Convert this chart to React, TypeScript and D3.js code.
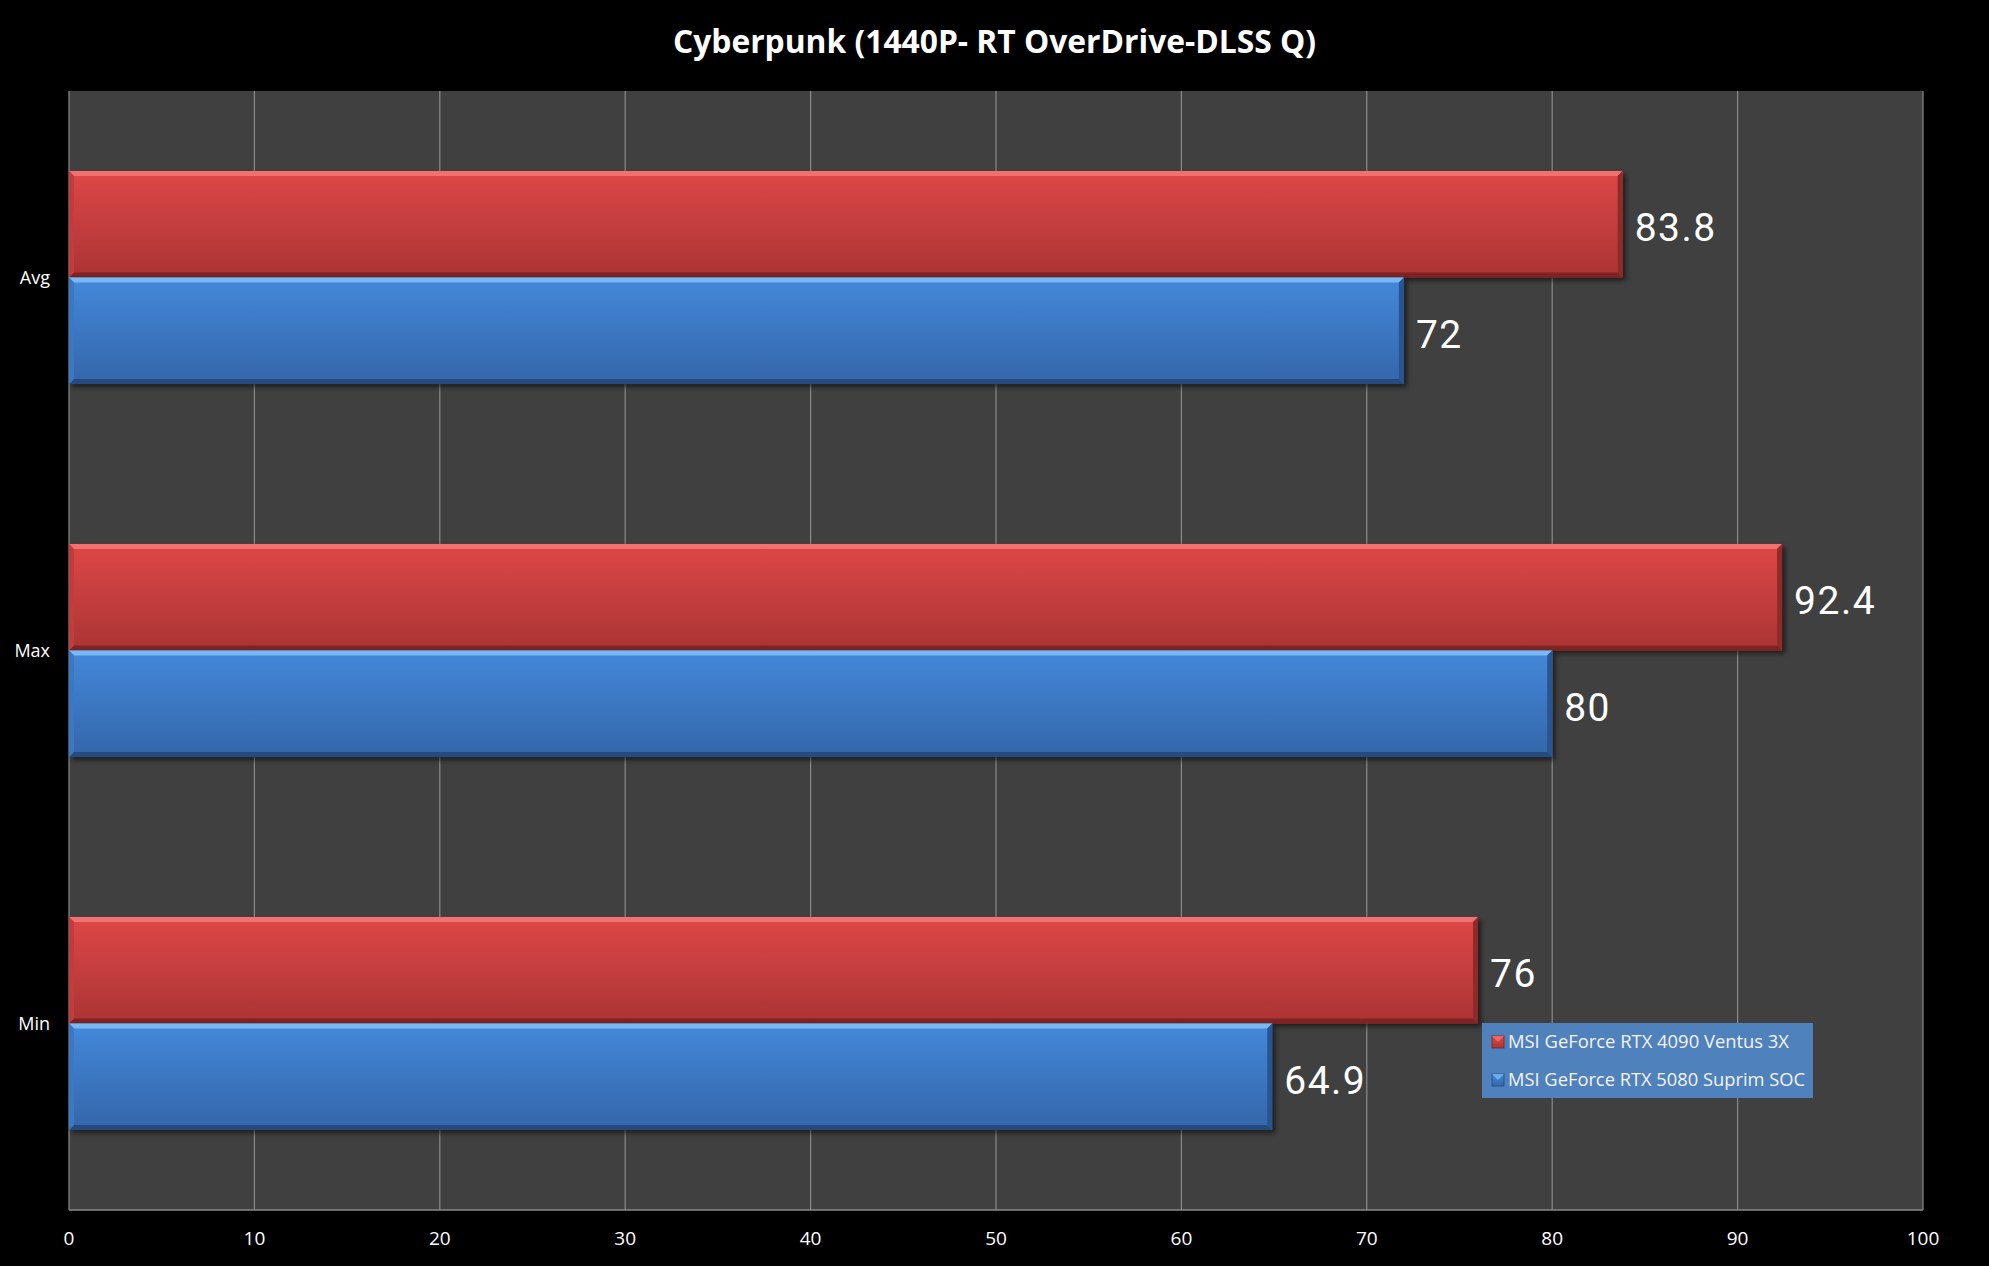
import React from "react";
import * as d3 from "d3";

const categories = ["Avg", "Max", "Min"];
const seriesNames = ["MSI GeForce RTX 4090 Ventus 3X", "MSI GeForce RTX 5080 Suprim SOC"];
const rtx4090 = [83.8, 92.4, 76];
const rtx5080 = [72, 80, 64.9];
const xTicks = [0, 10, 20, 30, 40, 50, 60, 70, 80, 90, 100];
const title = "Cyberpunk (1440P- RT OverDrive-DLSS Q)";

const W = 1989, H = 1266;
const plot = { left: 69, right: 1923, top: 91, bottom: 1210 };

const palettes = [
  { top: "#de4747", bottom: "#ab3434", hi: "#f37070", lo: "#7e2222", side: "#c23c3c", end: "#8e2a2a" },
  { top: "#4488da", bottom: "#3466aa", hi: "#7ab8f2", lo: "#244a7e", side: "#3b78c4", end: "#285490" },
];

export default function App() {
  const x = d3.scaleLinear().domain([0, 100]).range([plot.left, plot.right]);
  const y0 = d3.scaleBand().domain(categories).range([plot.top, plot.bottom]).paddingInner(0.4286).paddingOuter(0.2143);
  const series = [rtx4090, rtx5080];
  const y1 = d3.scaleBand().domain(["0", "1"]).range([0, y0.bandwidth()]);
  const b = 5;

  return (
    <svg width={W} height={H} style={{ position: "absolute", left: 0, top: 0, background: "#000" }}
      fontFamily="'Open Sans', sans-serif">
      <defs>
        {palettes.map((p, i) => (
          <linearGradient key={i} id={`g${i}`} x1="0" y1="0" x2="0" y2="1">
            <stop offset="0" stopColor={p.top} />
            <stop offset="1" stopColor={p.bottom} />
          </linearGradient>
        ))}
        <filter id="sh" x="-5%" y="-20%" width="110%" height="150%">
          <feGaussianBlur stdDeviation="2.5" />
        </filter>
      </defs>
      <rect x={0} y={0} width={W} height={H} fill="#000" />
      <text x={W / 2} y={53} textAnchor="middle" fill="#fff" fontSize={33} fontWeight="bold"
        fontFamily="'Open Sans', sans-serif" textLength={643} lengthAdjust="spacingAndGlyphs">{title}</text>
      <rect x={plot.left} y={plot.top} width={plot.right - plot.left} height={plot.bottom - plot.top} fill="#404040" />
      {xTicks.map((t) => (
        <line key={t} x1={x(t)} x2={x(t)} y1={plot.top} y2={plot.bottom} stroke="#8a8a8a" strokeWidth={1.2} />
      ))}
      <line x1={plot.left} x2={plot.right} y1={plot.bottom} y2={plot.bottom} stroke="#8a8a8a" strokeWidth={1.5} />
      {xTicks.map((t) => (
        <text key={"l" + t} x={x(t)} y={1245} textAnchor="middle" fill="#fff" fontSize={19}>{t}</text>
      ))}
      {categories.map((c, ci) => (
        <g key={c}>
          <text x={50} y={(y0(c) as number) + y0.bandwidth() / 2 + 6} textAnchor="end" fill="#fff" fontSize={18}>{c}</text>
          {series.map((s, si) => {
            const p = palettes[si];
            const yy = (y0(c) as number) + (y1(String(si)) as number);
            const h = y1.bandwidth();
            const xa = x(0), xb = x(s[ci]);
            return (
              <g key={si}>
                <rect x={xa + 3} y={yy + 3} width={xb - xa} height={h} fill="#000" opacity={0.55} filter="url(#sh)" />
                <rect x={xa} y={yy} width={xb - xa} height={h} fill={`url(#g${si})`} />
                <polygon points={`${xa},${yy} ${xb},${yy} ${xb - b},${yy + b} ${xa + b},${yy + b}`} fill={p.hi} />
                <polygon points={`${xa},${yy + h} ${xb},${yy + h} ${xb - b},${yy + h - b} ${xa + b},${yy + h - b}`} fill={p.lo} />
                <polygon points={`${xb},${yy} ${xb},${yy + h} ${xb - b},${yy + h - b} ${xb - b},${yy + b}`} fill={p.end} />
                <polygon points={`${xa},${yy} ${xa},${yy + h} ${xa + b},${yy + h - b} ${xa + b},${yy + b}`} fill={p.side} />
                <text x={xb + 12} y={yy + h / 2 + 17} fill="#fff" fontSize={39} fontFamily="Roboto, sans-serif"
                  letterSpacing={1.5}>{s[ci]}</text>
              </g>
            );
          })}
        </g>
      ))}
      <rect x={1482} y={1023} width={331} height={75} fill="#4f81bd" />
      {seriesNames.map((n, i) => {
        const cy = 1042 + i * 38;
        const p = palettes[i];
        return (
          <g key={n}>
            <rect x={1492} y={cy - 6} width={12} height={12} fill={`url(#g${i})`} stroke={p.lo} strokeWidth={0.8} />
            <polygon points={`${1492},${cy - 6} ${1504},${cy - 6} ${1498},${cy}`} fill={p.hi} opacity={0.8} />
            <text x={1508} y={cy + 6} fill="#f4f4f4" fontSize={17.5} textLength={i === 0 ? 281 : 297}
              lengthAdjust="spacingAndGlyphs">{n}</text>
          </g>
        );
      })}
    </svg>
  );
}
